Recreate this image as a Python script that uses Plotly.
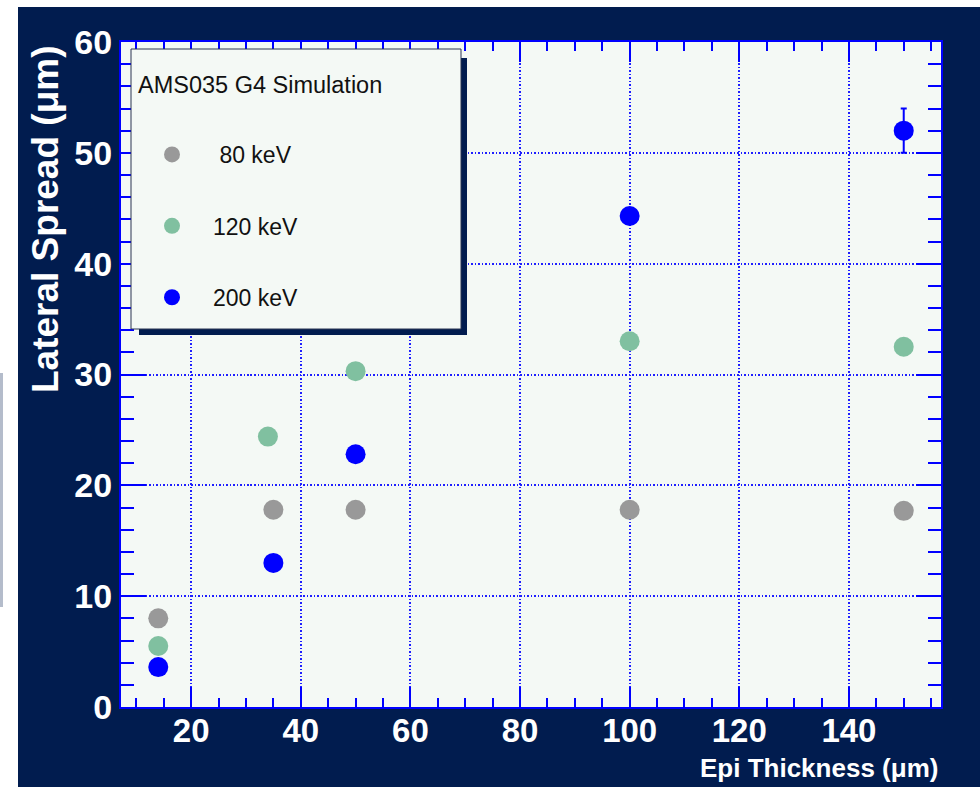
import plotly.graph_objects as go

# ---- data ----
x_80 = [14, 35, 50, 100, 150]
y_80 = [8.0, 17.8, 17.8, 17.8, 17.7]
x_120 = [14, 34, 50, 100, 150]
y_120 = [5.5, 24.4, 30.3, 33.0, 32.5]
x_200 = [14, 35, 50, 100, 150]
y_200 = [3.6, 13.0, 22.8, 44.3, 52.0]
err_200 = [0, 0, 0, 0, 2.0]
series_names = [" 80 keV", "120 keV", "200 keV"]
series_colors = ["#999999", "#80c0a0", "#0000ff"]
legend_title = "AMS035 G4 Simulation"
x_title = "Epi Thickness (\u03bcm)"
y_title = "Lateral Spread (\u03bcm)"

# ---- geometry ----
W, H = 980, 787
PL, PR, PT, PB = 121, 941, 42, 707
NAVY = "#011c4f"
PLOTBG = "#f4f9f5"
BLUE = "#0000ff"
FONT = "Liberation Sans, Arial, sans-serif"


def fx(px):
    return (px - PL) / (PR - PL)


def fy(py):
    return (PB - py) / (PB - PT)


fig = go.Figure()
for xs, ys, nm, col, err in [
    (x_80, y_80, series_names[0], series_colors[0], None),
    (x_120, y_120, series_names[1], series_colors[1], None),
    (x_200, y_200, series_names[2], series_colors[2], err_200),
]:
    kw = {}
    if err is not None:
        kw["error_y"] = dict(type="data", array=err, visible=True,
                             color=col, thickness=2, width=3)
    fig.add_trace(go.Scatter(
        x=xs, y=ys, mode="markers", name=nm, legendgroup=nm,
        marker=dict(color=col, size=20, symbol="circle", line=dict(width=0)),
        **kw))

axis_common = dict(
    showline=True, linecolor=BLUE, linewidth=2, mirror="ticks",
    ticks="inside", tickcolor=BLUE, tickwidth=2,
    showgrid=True, gridcolor="#1f1fff", gridwidth=1.5, griddash="1.5px,2px",
    zeroline=False,
)

fig.update_xaxes(range=[7.2, 156.8], tick0=0, dtick=20, ticklen=20,
                 ticklabelstandoff=-7,
                 tickfont=dict(family=FONT, size=33, color="white", weight="bold"),
                 minor=dict(tick0=0, dtick=5, ticks="inside", ticklen=9,
                            tickcolor=BLUE, tickwidth=2, showgrid=False),
                 **axis_common)
fig.update_yaxes(range=[0, 60], tick0=0, dtick=10, ticklen=25,
                 tickfont=dict(family=FONT, size=34, color="white", weight="bold"),
                 minor=dict(tick0=0, dtick=2, ticks="inside", ticklen=13,
                            tickcolor=BLUE, tickwidth=2, showgrid=False),
                 **axis_common)

shapes = [
    # white strips outside the navy frame
    dict(type="rect", xref="paper", yref="paper", x0=fx(0), x1=fx(18),
         y0=fy(H), y1=fy(0), fillcolor="white", line=dict(width=0), layer="below"),
    dict(type="rect", xref="paper", yref="paper", x0=fx(0), x1=fx(W),
         y0=fy(7), y1=fy(0), fillcolor="white", line=dict(width=0), layer="below"),
    dict(type="line", xref="paper", yref="paper", x0=fx(1.5), x1=fx(1.5),
         y0=fy(373), y1=fy(607), line=dict(color="#b4bccb", width=3), layer="below"),
    # legend shadow and box
    dict(type="rect", xref="paper", yref="paper", x0=fx(139), x1=fx(467),
         y0=fy(335), y1=fy(58), fillcolor=NAVY, line=dict(width=0), layer="above"),
    dict(type="rect", xref="paper", yref="paper", x0=fx(131), x1=fx(461),
         y0=fy(329), y1=fy(49), fillcolor=PLOTBG,
         line=dict(color="#2b3552", width=1), layer="above"),
]

annotations = [
    dict(text=y_title, xref="paper", yref="paper", x=fx(45), y=fy(219),
         xanchor="center", yanchor="middle", textangle=-90, showarrow=False,
         font=dict(family=FONT, size=37, color="white", weight="bold")),
    dict(text=x_title, xref="paper", yref="paper", x=fx(940), y=fy(768),
         xanchor="right", yanchor="middle", showarrow=False,
         font=dict(family=FONT, size=26, color="white", weight="bold")),
    dict(text=legend_title, xref="paper", yref="paper", x=fx(136), y=fy(85),
         xanchor="left", yanchor="middle", showarrow=False,
         font=dict(family=FONT, size=23.5, color="#111111")),
]

fig.update_layout(
    width=W, height=H, autosize=False,
    margin=dict(l=PL, r=W - PR, t=PT, b=H - PB, pad=0),
    paper_bgcolor=NAVY, plot_bgcolor=PLOTBG,
    shapes=shapes, annotations=annotations,
    showlegend=True,
    legend=dict(x=fx(131), y=fy(133), xanchor="left", yanchor="top",
                bgcolor="rgba(0,0,0,0)", borderwidth=0,
                font=dict(family=FONT, size=23, color="#111111"),
                tracegroupgap=38.5, itemsizing="trace", itemwidth=72),
)

fig.write_html("out.html")
